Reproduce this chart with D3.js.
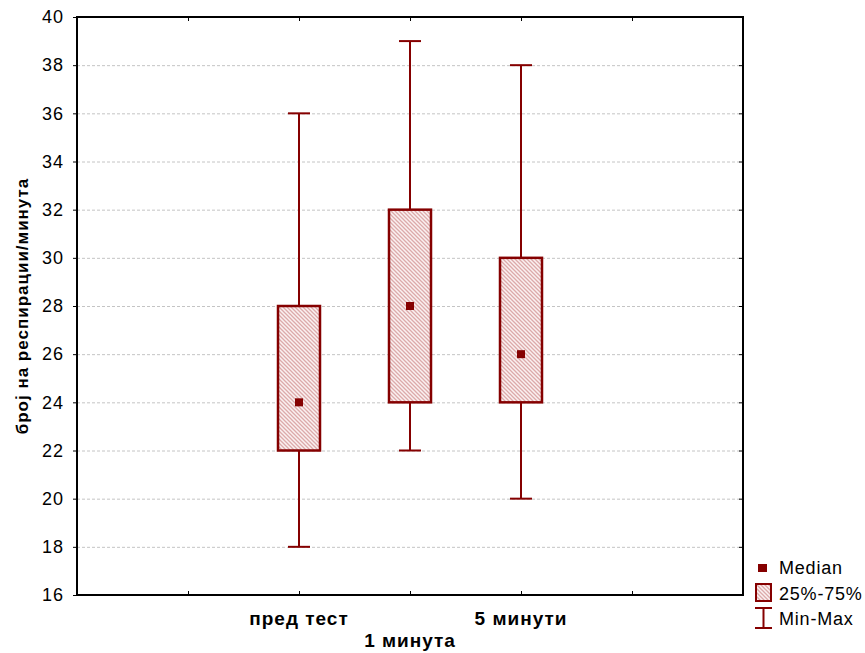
<!DOCTYPE html>
<html><head><meta charset="utf-8">
<script src="https://cdn.jsdelivr.net/npm/d3@7"></script>
<style>body{margin:0;background:#fff;} text{font-family:Arial,"Liberation Sans",sans-serif;}</style>
</head><body>
<svg id="c" width="865" height="653"></svg>
<script>
const categories = ["пред тест", "1 минута", "5 минути"];
const catPos = [2, 3, 4];
const mins = [18, 22, 20];
const q1s = [22, 24, 24];
const medians = [24, 28, 26];
const q3s = [28, 32, 30];
const maxs = [36, 39, 38];
const yTicks = [16, 18, 20, 22, 24, 26, 28, 30, 32, 34, 36, 38, 40];
const yLabel = "број на респирации/минута";
const legendLabels = ["Median", "25%-75%", "Min-Max"];

const col = "#850000";
const L = 77, R = 743, T = 17, B = 595;
const svg = d3.select("#c");
const defs = svg.append("defs");
const pat = defs.append("pattern").attr("id","hatch").attr("patternUnits","userSpaceOnUse")
  .attr("width",4).attr("height",4);
pat.append("rect").attr("width",4).attr("height",4).attr("fill","#fbf1f1");
pat.append("path").attr("d","M-1,-1 L5,5 M-1,3 L1,5 M3,-1 L5,1").attr("stroke","#dcaaaa").attr("stroke-width",1.3);

const x = d3.scaleLinear().domain([0,6]).range([L,R]);
const y = d3.scaleLinear().domain([16,40]).range([B,T]);

// grid
svg.append("g").selectAll("line").data(yTicks.slice(1,-1)).join("line")
  .attr("x1",L).attr("x2",R).attr("y1",d=>y(d)+0.5).attr("y2",d=>y(d)+0.5)
  .attr("stroke","#c4c4c4").attr("stroke-dasharray","3,2").attr("stroke-width",1);

// left axis
const ga = svg.append("g").attr("transform",`translate(${L},0)`)
  .call(d3.axisLeft(y).tickValues(yTicks).tickSize(4).tickPadding(9).tickFormat(d3.format("d")));
ga.select(".domain").remove();
ga.selectAll("line").attr("stroke","#000");
ga.selectAll("text").attr("font-size",18).attr("letter-spacing",1).attr("fill","#000")
  .attr("font-family","Arial, 'Liberation Sans', sans-serif");
// right axis inner ticks
const gr = svg.append("g").attr("transform",`translate(${R},0)`)
  .call(d3.axisLeft(y).tickValues(yTicks).tickSize(4).tickFormat(""));
gr.select(".domain").remove(); gr.selectAll("line").attr("stroke","#000");
// bottom/top inner ticks
const xt = [1,2,3,4,5];
const gb = svg.append("g").attr("transform",`translate(0,${B})`)
  .call(d3.axisTop(x).tickValues(xt).tickSize(4).tickFormat(""));
gb.select(".domain").remove(); gb.selectAll("line").attr("stroke","#000");
const gt = svg.append("g").attr("transform",`translate(0,${T})`)
  .call(d3.axisBottom(x).tickValues(xt).tickSize(4).tickFormat(""));
gt.select(".domain").remove(); gt.selectAll("line").attr("stroke","#000");

// frame
svg.append("rect").attr("x",L).attr("y",T).attr("width",R-L).attr("height",B-T)
  .attr("fill","none").attr("stroke","#000").attr("stroke-width",2);

// category labels
svg.append("g").selectAll("text").data(categories).join("text")
  .attr("x",(d,i)=>x(catPos[i])).attr("y",(d,i)=> i%2===1 ? 647 : 625)
  .attr("text-anchor","middle").attr("font-size",19).attr("letter-spacing",1).attr("font-weight","bold").text(d=>d);

// y label
svg.append("text").attr("transform",`translate(28,${(T+B)/2}) rotate(-90)`)
  .attr("text-anchor","middle").attr("font-size",17).attr("letter-spacing",1).attr("font-weight","bold").text(yLabel);

// boxes
const bw = 42, cw = 22;
const g = svg.append("g");
categories.forEach((c,i)=>{
  const cx = x(catPos[i]);
  g.append("line").attr("x1",cx).attr("x2",cx).attr("y1",y(maxs[i])).attr("y2",y(q3s[i])).attr("stroke",col).attr("stroke-width",2);
  g.append("line").attr("x1",cx).attr("x2",cx).attr("y1",y(q1s[i])).attr("y2",y(mins[i])).attr("stroke",col).attr("stroke-width",2);
  g.append("line").attr("x1",cx-cw/2).attr("x2",cx+cw/2).attr("y1",y(maxs[i])).attr("y2",y(maxs[i])).attr("stroke",col).attr("stroke-width",2);
  g.append("line").attr("x1",cx-cw/2).attr("x2",cx+cw/2).attr("y1",y(mins[i])).attr("y2",y(mins[i])).attr("stroke",col).attr("stroke-width",2);
  g.append("rect").attr("x",cx-bw/2).attr("y",y(q3s[i])).attr("width",bw).attr("height",y(q1s[i])-y(q3s[i]))
    .attr("fill","url(#hatch)").attr("stroke",col).attr("stroke-width",2.5);
  g.append("rect").attr("x",cx-4).attr("y",y(medians[i])-4).attr("width",8).attr("height",8).attr("fill",col);
});

// legend
const lg = svg.append("g");
lg.append("rect").attr("x",758).attr("y",564).attr("width",9).attr("height",8).attr("fill",col);
lg.append("rect").attr("x",756).attr("y",584).attr("width",15).attr("height",17).attr("fill","url(#hatch)").attr("stroke",col).attr("stroke-width",2);
lg.append("line").attr("x1",763.5).attr("x2",763.5).attr("y1",608).attr("y2",628).attr("stroke",col).attr("stroke-width",2);
lg.append("line").attr("x1",755).attr("x2",772).attr("y1",608).attr("y2",608).attr("stroke",col).attr("stroke-width",2);
lg.append("line").attr("x1",755).attr("x2",772).attr("y1",628).attr("y2",628).attr("stroke",col).attr("stroke-width",2);
lg.selectAll("text").data(legendLabels).join("text")
  .attr("x",779).attr("y",(d,i)=>[574,600,625][i]).attr("font-size",18).attr("letter-spacing",0.8).attr("fill","#000").text(d=>d);
</script>
</body></html>
